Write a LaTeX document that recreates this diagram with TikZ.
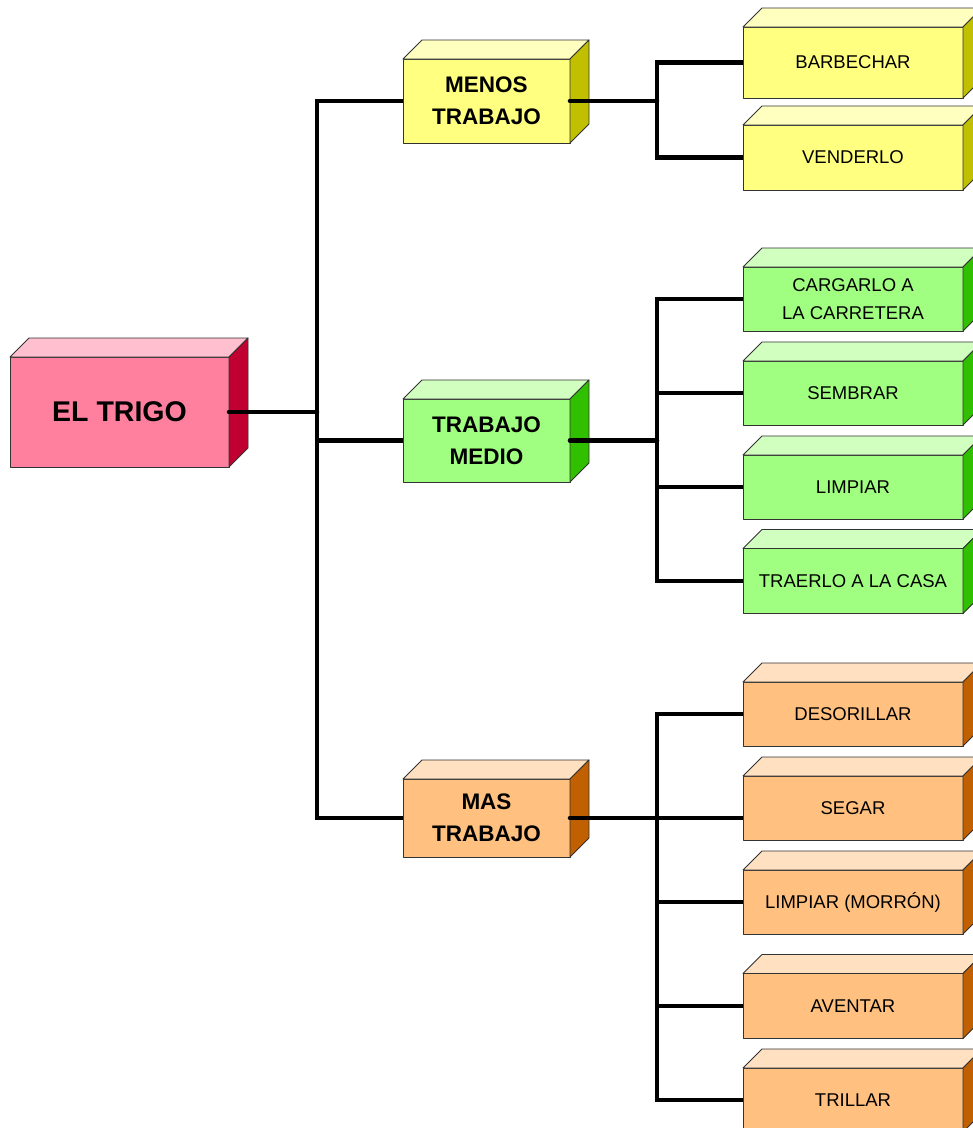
\documentclass[tikz,border=0pt]{standalone}
\usepackage{fontspec}
\setmainfont{Liberation Sans}
\definecolor{pinkfront}{HTML}{FF7F9F}
\definecolor{pinktop}{HTML}{FFBFCF}
\definecolor{pinkside}{HTML}{C00030}
\definecolor{yellowfront}{HTML}{FFFF80}
\definecolor{yellowtop}{HTML}{FFFFC0}
\definecolor{yellowside}{HTML}{C0C000}
\definecolor{greenfront}{HTML}{A0FF80}
\definecolor{greentop}{HTML}{D0FFC0}
\definecolor{greenside}{HTML}{30C000}
\definecolor{orangefront}{HTML}{FFC080}
\definecolor{orangetop}{HTML}{FFE0C0}
\definecolor{orangeside}{HTML}{C06000}
\tikzset{
  cubeedge/.style={draw=black!80, line width=0.9pt, line join=round},
  cubefront/.style={cubeedge, rectangle, inner sep=0pt, outer sep=0pt, align=center, text=black},
  rootfont/.style={font=\fontsize{28.5}{34}\selectfont\bfseries},
  midfont/.style={font=\fontsize{22.5}{32}\selectfont\bfseries},
  leaffont/.style={font=\fontsize{18.5}{27.7}\selectfont},
  conn/.style={draw=black, line width=4.6pt, line cap=butt, line join=miter},
  connstart/.style={conn, line cap=round},
}
\newcommand{\cubebox}[8]{%
  \node[cubefront, #8, fill=#6front, minimum width=#4pt, minimum height=#5pt] (#1) at (#2,#3) {#7};
  \draw[cubeedge, fill=#6top] (#1.north west) -- ++(19,-19) -- ([shift={(19,-19)}]#1.north east) -- (#1.north east) -- cycle;
  \draw[cubeedge, fill=#6side] (#1.north east) -- ++(19,-19) -- ([shift={(19,-19)}]#1.south east) -- (#1.south east) -- cycle;
}
\begin{document}
\begin{tikzpicture}[x=1pt, y=-1pt]
\path[use as bounding box, clip] (0,0) rectangle (973,1128);
% root
\cubebox{trigo}{119.5}{412}{219}{110}{pink}{EL TRIGO}{rootfont}
% level 1
\cubebox{menos}{486.5}{101}{167}{84}{yellow}{MENOS\\TRABAJO}{midfont}
\cubebox{medio}{486.5}{440.5}{167}{83}{green}{TRABAJO\\MEDIO}{midfont}
\cubebox{mas}{486.5}{818}{167}{78}{orange}{MAS\\TRABAJO}{midfont}
% level 2 yellow
\cubebox{barb}{853}{62.5}{220}{71}{yellow}{BARBECHAR}{leaffont}
\cubebox{vend}{853}{157.5}{220}{65}{yellow}{VENDERLO}{leaffont}
% level 2 green
\cubebox{carg}{853}{299}{220}{64}{green}{CARGARLO A\\LA CARRETERA}{leaffont}
\cubebox{semb}{853}{393}{220}{64}{green}{SEMBRAR}{leaffont}
\cubebox{limp}{853}{487}{220}{64}{green}{LIMPIAR}{leaffont}
\cubebox{trae}{853}{581}{220}{65}{green}{TRAERLO A LA CASA}{leaffont}
% level 2 orange
\cubebox{deso}{853}{714}{220}{64}{orange}{DESORILLAR}{leaffont}
\cubebox{sega}{853}{808}{220}{64}{orange}{SEGAR}{leaffont}
\cubebox{morr}{853}{902}{220}{64}{orange}{LIMPIAR (MORRÓN)}{leaffont}
\cubebox{aven}{853}{1006}{220}{65}{orange}{AVENTAR}{leaffont}
\cubebox{tril}{853}{1100}{220}{64}{orange}{TRILLAR}{leaffont}
% junctions
\coordinate (trunk) at (317,412);
\coordinate (b1) at (657,101);
\coordinate (b2) at (657,440.5);
\coordinate (b3) at (657,818);
% connectors
\draw[connstart] (trigo.east) -- (trunk);
\draw[conn] (trunk) |- (menos.west);
\draw[conn] (trunk) |- (medio.west);
\draw[conn] (trunk) |- (mas.west);
\draw[connstart] (menos.east) -- (b1);
\draw[conn] (b1) |- (barb.west);
\draw[conn] (b1) |- (vend.west);
\draw[connstart] (medio.east) -- (b2);
\draw[conn] (b2) |- (carg.west);
\draw[conn] (b2) |- (semb.west);
\draw[conn] (b2) |- (limp.west);
\draw[conn] (b2) |- (trae.west);
\draw[connstart] (mas.east) -- (b3);
\draw[conn] (b3) |- (deso.west);
\draw[conn] (b3) -- ([yshift=-10pt]sega.west);
\draw[conn] (b3) |- (morr.west);
\draw[conn] (b3) |- (aven.west);
\draw[conn] (b3) |- (tril.west);
\end{tikzpicture}
\end{document}
